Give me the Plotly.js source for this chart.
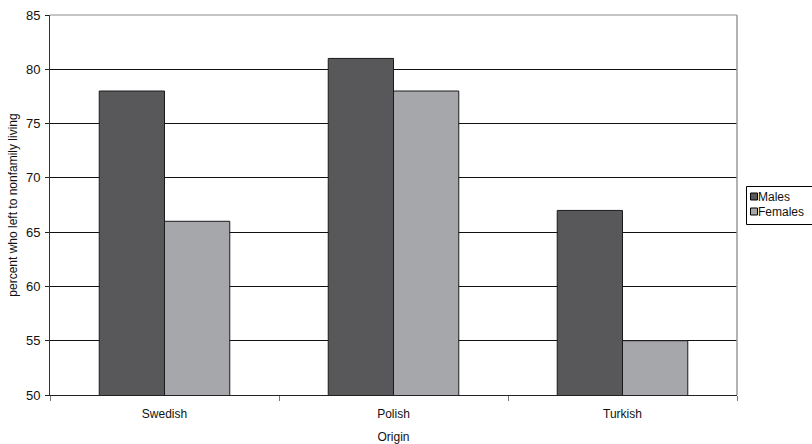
<!DOCTYPE html>
<html>
<head>
<meta charset="utf-8">
<script src="https://cdn.plot.ly/plotly-3.0.1.min.js"></script>
<style>html,body{margin:0;padding:0;background:#fff;}#chart{width:812px;height:444px;}</style>
</head>
<body>
<div id="chart"></div>
<script>
var categories = ["Swedish", "Polish", "Turkish"];
var seriesNames = ["Males", "Females"];
var malesValues = [78, 81, 67];
var femalesValues = [66, 78, 55];
var yTickValues = [50, 55, 60, 65, 70, 75, 80, 85];
var xTitle = "Origin";
var yTitle = "percent who left to nonfamily living";

var colors = ["#58585b", "#a6a7aa"];
var font = "Liberation Sans, Arial, sans-serif";

var traces = [malesValues, femalesValues].map(function (vals, i) {
  return {
    type: "bar",
    x: categories,
    y: vals,
    name: seriesNames[i],
    marker: {color: colors[i], line: {color: "#1a1a1a", width: 1}},
    showlegend: false
  };
});

// legend drawn with shapes/annotations from the series names
var shapes = [
  {type: "line", xref: "paper", yref: "paper", x0: 0, x1: 1, y0: 1, y1: 1, line: {color: "#8c8c8c", width: 1}, layer: "above"},
  {type: "line", xref: "paper", yref: "paper", x0: 1, x1: 1, y0: 0, y1: 1, line: {color: "#9a9a9a", width: 1.5}, layer: "above"}
];
var annotations = [];
var plotL = 50, plotW = 687, plotT = 15, plotH = 380;
function px2x(p) { return (p - plotL) / plotW; }
function py2y(p) { return 1 - (p - plotT) / plotH; }
shapes.push({type: "rect", xref: "paper", yref: "paper", x0: px2x(746.5), x1: px2x(830), y0: py2y(186.5), y1: py2y(224.5), line: {color: "#000", width: 1}, fillcolor: "rgba(0,0,0,0)"});
seriesNames.forEach(function (n, i) {
  var cy = 196.5 + i * 15;
  shapes.push({type: "rect", xref: "paper", yref: "paper", x0: px2x(750.5), x1: px2x(757.5), y0: py2y(cy - 3.5), y1: py2y(cy + 3.5), line: {color: "#000", width: 1}, fillcolor: colors[i]});
  annotations.push({xref: "paper", yref: "paper", x: px2x(756), y: py2y(cy), xanchor: "left", yanchor: "middle", text: n, showarrow: false, font: {family: font, size: 12, color: "#111"}});
});

var layout = {
  width: 812, height: 444,
  margin: {l: plotL, r: 812 - plotL - plotW, t: plotT, b: 444 - plotT - plotH, autoexpand: false},
  paper_bgcolor: "#fff", plot_bgcolor: "#fff",
  font: {family: font, size: 12, color: "#111"},
  barmode: "group", bargap: 0.43, bargroupgap: 0,
  showlegend: false,
  xaxis: {
    type: "category",
    showline: true, linecolor: "#222", linewidth: 1,
    ticks: "outside", tickson: "boundaries", ticklen: 5, tickcolor: "#777",
    showgrid: false, zeroline: false,
    ticklabelstandoff: 8,
    tickfont: {family: font, size: 12, color: "#111"},
    title: {text: xTitle, font: {family: font, size: 12, color: "#111"}, standoff: 12},
    automargin: false
  },
  yaxis: {
    range: [50, 85], tickvals: yTickValues,
    showline: true, linecolor: "#333", linewidth: 1,
    ticks: "outside", ticklen: 4, tickcolor: "#222",
    showgrid: true, gridcolor: "#111", gridwidth: 1, zeroline: false,
    ticklabelstandoff: 2,
    tickfont: {family: font, size: 13, color: "#111"},
    title: {text: yTitle, font: {family: font, size: 12, color: "#111"}, standoff: 5},
    automargin: false
  },
  shapes: shapes,
  annotations: annotations
};

Plotly.newPlot("chart", traces, layout, {displayModeBar: false, staticPlot: true});
</script>
</body>
</html>
